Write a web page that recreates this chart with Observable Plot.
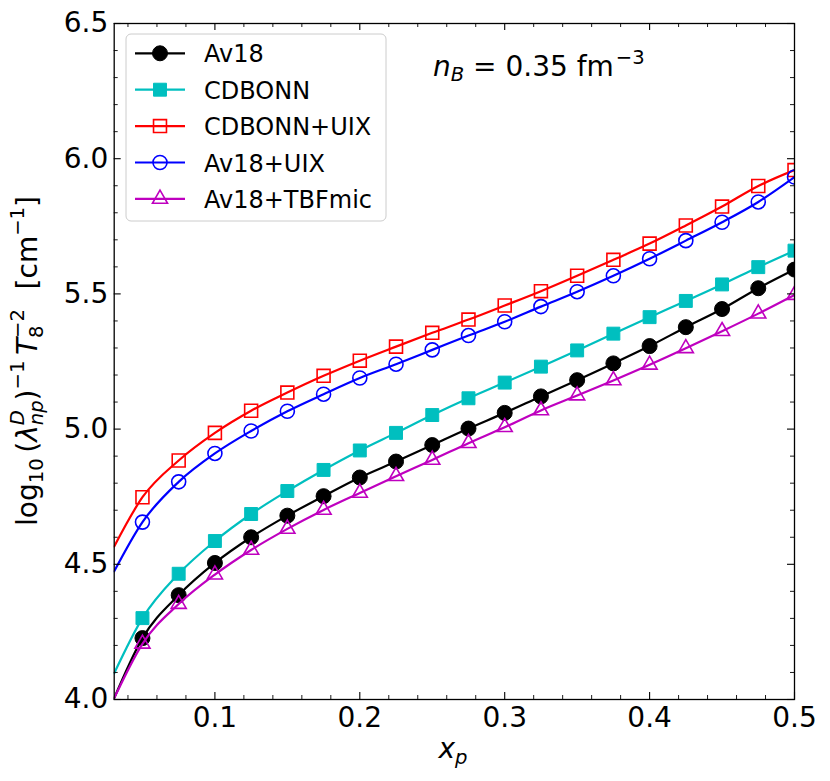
<!DOCTYPE html>
<html><head><meta charset="utf-8">
<script src="https://cdn.jsdelivr.net/npm/d3@7"></script>
<script src="https://cdn.jsdelivr.net/npm/@observablehq/plot@0.6"></script>
<style>html,body{margin:0;padding:0;background:#fff} svg{display:block}</style>
</head><body><div id="chart"></div>
<script>
// x positions: first value is the left edge of the axes (line only, no marker)
const xLine = [0.0305, 0.05, 0.075, 0.1, 0.125, 0.15, 0.175, 0.2, 0.225, 0.25, 0.275, 0.3, 0.325, 0.35, 0.375, 0.4, 0.425, 0.45, 0.475, 0.5];
const av18      = [4.005, 4.227, 4.386, 4.505, 4.600, 4.680, 4.752, 4.821, 4.880, 4.941, 5.002, 5.060, 5.121, 5.181, 5.243, 5.307, 5.377, 5.444, 5.521, 5.590];
const cdbonn    = [4.097, 4.301, 4.465, 4.586, 4.686, 4.771, 4.849, 4.921, 4.986, 5.052, 5.114, 5.172, 5.231, 5.291, 5.353, 5.414, 5.474, 5.535, 5.599, 5.660];
const cdbonnUIX = [4.566, 4.748, 4.884, 4.986, 5.068, 5.135, 5.197, 5.253, 5.305, 5.356, 5.405, 5.457, 5.510, 5.567, 5.626, 5.686, 5.753, 5.823, 5.899, 5.958];
const av18UIX   = [4.474, 4.656, 4.805, 4.910, 4.993, 5.066, 5.129, 5.189, 5.240, 5.293, 5.346, 5.397, 5.453, 5.508, 5.567, 5.630, 5.697, 5.765, 5.840, 5.932];
const av18TBF   = [4.005, 4.206, 4.353, 4.462, 4.553, 4.631, 4.701, 4.764, 4.826, 4.886, 4.948, 5.007, 5.069, 5.124, 5.180, 5.238, 5.299, 5.362, 5.427, 5.496];

const names   = ["Av18", "CDBONN", "CDBONN+UIX", "Av18+UIX", "Av18+TBFmic"];
const colors  = ["#000000", "#00bfbf", "#ff0000", "#0000ff", "#bf00bf"];
const symbols = ["circle", "square", "square", "circle", "triangle"];
const filled  = [true, true, false, false, false];
const radii   = [7.5, 7.3, 7.3, 7, 5.6];
const values  = [av18, cdbonn, cdbonnUIX, av18UIX, av18TBF];

const xMajor = [0.1, 0.2, 0.3, 0.4, 0.5];
const xMinor = [0.04, 0.06, 0.08, 0.12, 0.14, 0.16, 0.18, 0.22, 0.24, 0.26, 0.28, 0.32, 0.34, 0.36, 0.38, 0.42, 0.44, 0.46, 0.48];
const yMajor = [4.0, 4.5, 5.0, 5.5, 6.0, 6.5];
const yMinor = [4.1, 4.2, 4.3, 4.4, 4.6, 4.7, 4.8, 4.9, 5.1, 5.2, 5.3, 5.4, 5.6, 5.7, 5.8, 5.9, 6.1, 6.2, 6.3, 6.4];

const W = 830, H = 781, mL = 113.7, mR = 36, mT = 23, mB = 82;
const pw = W - mL - mR, ph = H - mT - mB;
const FONT = "DejaVu Sans";
const LW = 2.2;

const rows = names.flatMap((n, k) => xLine.map((x, i) => ({name: n, k, i, x, y: values[k][i]})));

const marks = [];
names.forEach((n, k) => {
  const d = rows.filter(r => r.k === k);
  marks.push(Plot.line(d, {x: "x", y: "y", stroke: colors[k], strokeWidth: LW, curve: "monotone-x", clip: true}));
  marks.push(Plot.dot(d.filter(r => r.i > 0), {x: "x", y: "y", symbol: symbols[k], r: radii[k],
    fill: filled[k] ? colors[k] : "none", stroke: colors[k], strokeWidth: filled[k] ? 1 : 1.6, clip: true}));
});

// inward ticks on all four sides
const MJ = 7, MN = 4;
marks.push(
  Plot.tickX(xMajor, {x: d => d, insetTop: ph - MJ, stroke: "black", strokeWidth: 1.1}),
  Plot.tickX(xMajor, {x: d => d, insetBottom: ph - MJ, stroke: "black", strokeWidth: 1.1}),
  Plot.tickX(xMinor, {x: d => d, insetTop: ph - MN, stroke: "black", strokeWidth: 0.9}),
  Plot.tickX(xMinor, {x: d => d, insetBottom: ph - MN, stroke: "black", strokeWidth: 0.9}),
  Plot.tickY(yMajor, {y: d => d, insetRight: pw - MJ, stroke: "black", strokeWidth: 1.1}),
  Plot.tickY(yMajor, {y: d => d, insetLeft: pw - MJ, stroke: "black", strokeWidth: 1.1}),
  Plot.tickY(yMinor, {y: d => d, insetRight: pw - MN, stroke: "black", strokeWidth: 0.9}),
  Plot.tickY(yMinor, {y: d => d, insetLeft: pw - MN, stroke: "black", strokeWidth: 0.9}),
  Plot.axisX({ticks: xMajor, tickSize: 0, tickPadding: 8, tickFormat: d => d.toFixed(1), fontSize: 28, label: null}),
  Plot.axisY({ticks: yMajor, tickSize: 0, tickPadding: 6, tickFormat: d => d.toFixed(1), fontSize: 28, label: null}),
  Plot.frame({stroke: "black", strokeWidth: 1.3})
);

const svgNode = Plot.plot({
  width: W, height: H,
  marginLeft: mL, marginRight: mR, marginTop: mT, marginBottom: mB,
  x: {domain: [0.0305, 0.5], label: null},
  y: {domain: [4.0, 6.5], label: null},
  style: {fontFamily: FONT, fontSize: "28px", color: "black", background: "white"},
  marks
});
document.getElementById("chart").appendChild(svgNode);

const svg = d3.select(svgNode);

// legend
const lg = svg.append("g").attr("font-family", FONT).attr("text-anchor", "start");
lg.append("rect").attr("x", 126).attr("y", 34).attr("width", 260).attr("height", 187)
  .attr("rx", 5).attr("fill", "white").attr("fill-opacity", 0.8).attr("stroke", "#cccccc").attr("stroke-width", 1);
const symMap = {circle: d3.symbolCircle, square: d3.symbolSquare, triangle: d3.symbolTriangle};
names.forEach((n, k) => {
  const cy = 53.3 + k * 36.4;
  lg.append("line").attr("x1", 135).attr("x2", 185).attr("y1", cy).attr("y2", cy)
    .attr("stroke", colors[k]).attr("stroke-width", LW);
  lg.append("path").attr("transform", `translate(160,${cy})`)
    .attr("d", d3.symbol(symMap[symbols[k]], Math.PI * radii[k] * radii[k])())
    .attr("fill", filled[k] ? colors[k] : "none").attr("stroke", colors[k])
    .attr("stroke-width", filled[k] ? 1 : 1.6);
  lg.append("text").attr("x", 204).attr("y", cy + 9).attr("font-size", 24).attr("fill", "black").text(n);
});

// annotation n_B = 0.35 fm^-3
const ann = svg.append("text").attr("x", 433).attr("y", 76).attr("text-anchor", "start")
  .attr("font-family", FONT).attr("font-size", 28).attr("fill", "black");
ann.append("tspan").attr("font-style", "italic").text("n");
ann.append("tspan").attr("font-style", "italic").attr("font-size", 19.6).attr("dy", 5).text("B");
ann.append("tspan").attr("dy", -5).text(" = 0.35 fm");
ann.append("tspan").attr("font-size", 19.6).attr("dx", 2).attr("dy", -12.5).text("\u22123");

// x label
const xl = svg.append("text").attr("x", 453).attr("y", 758).attr("text-anchor", "middle")
  .attr("font-family", FONT).attr("font-size", 28).attr("fill", "black");
xl.append("tspan").attr("font-style", "italic").text("x");
xl.append("tspan").attr("font-style", "italic").attr("font-size", 19.6).attr("dy", 6).text("p");

// y label
const yl = svg.append("text").attr("transform", "translate(37,361) rotate(-90)").attr("text-anchor", "middle")
  .attr("font-family", FONT).attr("font-size", 28).attr("fill", "black");
yl.append("tspan").text("log");
yl.append("tspan").attr("font-size", 19.6).attr("dy", 6).text("10");
yl.append("tspan").attr("dy", -6).text("\u2009(");
yl.append("tspan").attr("font-style", "italic").text("λ");
yl.append("tspan").attr("font-style", "italic").attr("font-size", 19.6).attr("dy", -13).text("D");
yl.append("tspan").attr("font-style", "italic").attr("font-size", 19.6).attr("dx", -15.1).attr("dy", 19).text("np");
yl.append("tspan").attr("dy", -6).text(")");
yl.append("tspan").attr("font-size", 19.6).attr("dy", -13).text("\u22121");
yl.append("tspan").attr("font-style", "italic").attr("dy", 13).text("\u2009T");
yl.append("tspan").attr("font-size", 19.6).attr("dy", 6).text("8");
yl.append("tspan").attr("font-size", 19.6).attr("dx", -12.5).attr("dy", -19).text("\u22122");
yl.append("tspan").attr("dy", 13).text("\u2002\u2009[cm");
yl.append("tspan").attr("font-size", 19.6).attr("dy", -13).text("\u22121");
yl.append("tspan").attr("dy", 13).text("]");
</script>
</body></html>
